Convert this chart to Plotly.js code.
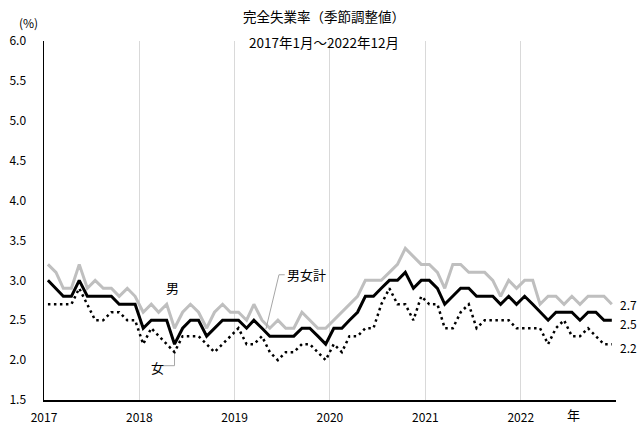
<!DOCTYPE html>
<html>
<head>
<meta charset="utf-8">
<script src="https://cdn.plot.ly/plotly-3.0.1.min.js"></script>
<style>
  html, body { margin: 0; padding: 0; background: #fff; }
  #chart { width: 643px; height: 436px; }
</style>
</head>
<body>
<div id="chart"></div>
<script>
// 完全失業率（季節調整値） 2017年1月～2022年12月, monthly values (%)
const years = [2017, 2018, 2019, 2020, 2021, 2022]
const yearLabels = ['2017', '2018', '2019', '2020', '2021', '2022']

const total = [ // 男女計
  3.0, 2.9, 2.8, 2.8, 3.0, 2.8, 2.8, 2.8, 2.8, 2.7, 2.7, 2.7,
  2.4, 2.5, 2.5, 2.5, 2.2, 2.4, 2.5, 2.5, 2.3, 2.4, 2.5, 2.5,
  2.5, 2.4, 2.5, 2.4, 2.3, 2.3, 2.3, 2.3, 2.4, 2.4, 2.3, 2.2,
  2.4, 2.4, 2.5, 2.6, 2.8, 2.8, 2.9, 3.0, 3.0, 3.1, 2.9, 3.0,
  3.0, 2.9, 2.7, 2.8, 2.9, 2.9, 2.8, 2.8, 2.8, 2.7, 2.8, 2.7,
  2.8, 2.7, 2.6, 2.5, 2.6, 2.6, 2.6, 2.5, 2.6, 2.6, 2.5, 2.5
]
const male = [ // 男
  3.2, 3.1, 2.9, 2.9, 3.2, 2.9, 3.0, 2.9, 2.9, 2.8, 2.9, 2.8,
  2.6, 2.7, 2.6, 2.7, 2.4, 2.6, 2.7, 2.6, 2.4, 2.6, 2.7, 2.6,
  2.6, 2.5, 2.7, 2.5, 2.4, 2.5, 2.4, 2.4, 2.6, 2.5, 2.4, 2.4,
  2.5, 2.6, 2.7, 2.8, 3.0, 3.0, 3.0, 3.1, 3.2, 3.4, 3.3, 3.2,
  3.2, 3.1, 2.9, 3.2, 3.2, 3.1, 3.1, 3.1, 3.0, 2.8, 3.0, 2.9,
  3.0, 3.0, 2.7, 2.8, 2.8, 2.7, 2.8, 2.7, 2.8, 2.8, 2.8, 2.7
]
const female = [ // 女
  2.7, 2.7, 2.7, 2.7, 2.9, 2.7, 2.5, 2.5, 2.6, 2.6, 2.5, 2.5,
  2.2, 2.4, 2.3, 2.2, 2.1, 2.3, 2.3, 2.3, 2.2, 2.1, 2.2, 2.3,
  2.4, 2.2, 2.2, 2.3, 2.1, 2.0, 2.1, 2.1, 2.2, 2.2, 2.1, 2.0,
  2.2, 2.1, 2.3, 2.3, 2.4, 2.4, 2.7, 2.9, 2.7, 2.7, 2.5, 2.8,
  2.7, 2.7, 2.4, 2.4, 2.6, 2.7, 2.4, 2.5, 2.5, 2.5, 2.5, 2.4,
  2.4, 2.4, 2.4, 2.2, 2.4, 2.5, 2.3, 2.3, 2.4, 2.3, 2.2, 2.2
]

// month positions (middle of each month)
const months = []
years.forEach(y => {
  for (let m = 1; m <= 12; m++) {
    months.push(`${y}-${String(m).padStart(2, '0')}-16`)
  }
})

const font = 'Noto Sans CJK JP, Noto Sans, sans-serif'
const last = months.length - 1

const traces = [
  {
    x: months, y: male, type: 'scatter', mode: 'lines', name: '男',
    line: { color: '#bfbfbf', width: 3 }
  },
  {
    x: months, y: total, type: 'scatter', mode: 'lines', name: '男女計',
    line: { color: '#000000', width: 3 }
  },
  {
    x: months, y: female, type: 'scatter', mode: 'lines', name: '女',
    line: { color: '#000000', width: 2.5, dash: '2.5px,3.5px' }
  }
]

const tickVals = years.map(y => `${y}-01-01`).concat(['2023-01-01'])
const tickText = yearLabels.concat([''])

// end-of-series value labels
const endLabels = [
  { v: male[last], shift: 0 },
  { v: total[last], shift: -3 },
  { v: female[last], shift: -3 }
]

const annotations = [
  {
    text: '完全失業率（季節調整値）', xref: 'paper', yref: 'paper',
    x: 0.49, xanchor: 'center', y: 1, yanchor: 'middle', yshift: 25,
    showarrow: false, font: { size: 13.5 }
  },
  {
    text: '2017年1月～2022年12月', xref: 'paper', yref: 'paper',
    x: 0.49, xanchor: 'center', y: 1, yanchor: 'middle', yshift: -1,
    showarrow: false, font: { size: 13.5 }
  },
  {
    text: '(%)', xref: 'paper', yref: 'paper', x: 0, xanchor: 'center', xshift: -16,
    y: 1, yanchor: 'middle', yshift: 19, showarrow: false, font: { size: 12 }
  },
  {
    text: '年', xref: 'paper', yref: 'paper', x: 0.925, xanchor: 'center',
    y: 0, yanchor: 'middle', yshift: -14, showarrow: false, font: { size: 13 }
  },
  {
    text: '男', x: '2018-05-10', y: 2.91, showarrow: false, font: { size: 13 }
  },
  {
    text: '女', x: '2018-03-10', y: 1.91, showarrow: false, font: { size: 13 }
  },
  {
    text: '男女計', x: '2019-07-15', y: 3.07, xanchor: 'left',
    showarrow: false, font: { size: 13 }
  }
].concat(endLabels.map(e => ({
  text: e.v.toFixed(1), x: months[last], y: e.v, xanchor: 'left', xshift: 6,
  yshift: e.shift, showarrow: false, font: { size: 12 }
})))

const shapes = [
  // leader line for 女
  { type: 'line', xref: 'x', yref: 'y', x0: '2018-03-28', y0: 1.93, x1: '2018-05-16', y1: 1.93,
    line: { color: '#a6a6a6', width: 1 } },
  { type: 'line', xref: 'x', yref: 'y', x0: '2018-05-16', y0: 1.93, x1: '2018-05-16', y1: 2.08,
    line: { color: '#a6a6a6', width: 1 } },
  // leader line for 男女計
  { type: 'line', xref: 'x', yref: 'y', x0: '2019-07-12', y0: 3.07, x1: '2019-06-20', y1: 3.07,
    line: { color: '#a6a6a6', width: 1 } },
  { type: 'line', xref: 'x', yref: 'y', x0: '2019-06-20', y0: 3.07, x1: '2019-05-01', y1: 2.39,
    line: { color: '#a6a6a6', width: 1 } }
]

const layout = {
  width: 643,
  height: 436,
  paper_bgcolor: '#ffffff',
  plot_bgcolor: '#ffffff',
  font: { family: font, color: '#000000', size: 12 },
  margin: { l: 44, r: 27, t: 41, b: 36 },
  showlegend: false,
  xaxis: {
    type: 'date',
    range: ['2017-01-01', '2023-01-01'],
    tickmode: 'array',
    tickvals: tickVals,
    ticktext: tickText,
    showgrid: true,
    gridcolor: '#d9d9d9',
    gridwidth: 1,
    showline: true,
    linecolor: '#000000',
    linewidth: 1.5,
    ticks: '',
    ticklabelstandoff: 6,
    zeroline: false,
    tickfont: { size: 12 }
  },
  yaxis: {
    range: [1.5, 6.0],
    tickmode: 'linear',
    tick0: 1.5,
    dtick: 0.5,
    tickformat: '.1f',
    showgrid: false,
    showline: true,
    linecolor: '#000000',
    linewidth: 1.5,
    ticks: '',
    ticklabelstandoff: 14,
    zeroline: false,
    tickfont: { size: 12 }
  },
  annotations: annotations,
  shapes: shapes
}

Plotly.newPlot('chart', traces, layout, { displayModeBar: false, staticPlot: true })
</script>
</body>
</html>
